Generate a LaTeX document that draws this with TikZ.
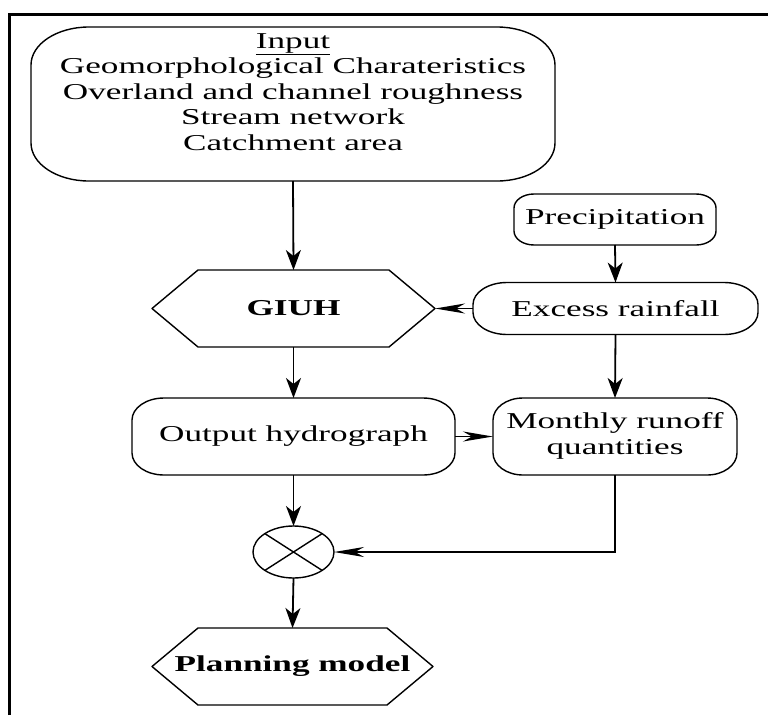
\documentclass[tikz,border=0pt]{standalone}
\usepackage{fontspec}
\usepackage{graphicx}
\setmainfont{Liberation Serif}
\usetikzlibrary{arrows.meta,shapes.geometric}
\newcommand\sx[1]{\scalebox{1.55}[1]{#1}}
\newcommand\lines[1]{\sx{\begin{tabular}{@{}c@{}}#1\end{tabular}}}
\newcommand\ovalpath[3]{%
  \draw[boxline] ([xshift=#2]#1.north west) -- ([xshift=-#2]#1.north east)
    arc[start angle=90,end angle=0,x radius=#2,y radius=#3]
    -- ([yshift=#3]#1.south east)
    arc[start angle=0,end angle=-90,x radius=#2,y radius=#3]
    -- ([xshift=#2]#1.south west)
    arc[start angle=270,end angle=180,x radius=#2,y radius=#3]
    -- ([yshift=-#3]#1.north west)
    arc[start angle=180,end angle=90,x radius=#2,y radius=#3] -- cycle;}
\newcommand\hexpath[2]{%
  \draw[boxline] (#1.west) -- ([xshift=#2]#1.north west) -- ([xshift=-#2]#1.north east)
    -- (#1.east) -- ([xshift=-#2]#1.south east) -- ([xshift=#2]#1.south west) -- cycle;}
\tikzset{
  boxline/.style={line width=1.4pt, line join=round},
  area/.style={inner sep=0pt, outer sep=0pt, align=center,
    font=\fontsize{22.7}{25.5}\selectfont},
  conn/.style={line width=1.8pt},
  vtip/.style={-{Stealth[length=20pt,width=15pt,inset=6pt]}},
  htip/.style={-{Stealth[length=30pt,width=10pt,inset=9pt]}},
}
\begin{document}
\begin{tikzpicture}[x=1pt,y=-1pt]
\useasboundingbox (0,0) rectangle (768,715);
\fill[white] (0,0) rectangle (768,715);
% frame
\draw[line width=3pt] (9.8,715) -- (9.8,14.7) -- (768,14.7);

% nodes
\node[area, minimum width=524pt, minimum height=154pt] (input) at (293,104) {};
\node[area] (inputtxt) at (293,94) {\lines{\underline{Input}\\Geomorphological Charateristics\\Overland and channel roughness\\Stream network\\Catchment area}};
\node[area, minimum width=202pt, minimum height=51pt] (prec) at (615,219.5) {\sx{Precipitation}};
\node[area, minimum width=285pt, minimum height=52pt] (excess) at (615.5,308.5) {\sx{Excess rainfall}};
\node[area, minimum width=283pt, minimum height=77pt, font=\fontsize{22.7}{25.5}\selectfont\bfseries] (giuh) at (293.5,308.5) {\sx{GIUH}};
\node[area, minimum width=323pt, minimum height=77pt] (output) at (293.5,436.5) {\sx{Output hydrograph}};
\node[area, minimum width=244pt, minimum height=77pt] (monthly) at (615,436.5) {\lines{Monthly runoff\\quantities}};
\node[ellipse, draw, boxline, inner sep=0pt, outer sep=0pt, minimum width=81pt, minimum height=52pt] (circ) at (293.5,552) {};
\node[area, minimum width=281pt, minimum height=77pt, font=\fontsize{22.7}{25.5}\selectfont\bfseries] (plan) at (292.5,666.5) {\sx{Planning model}};

% shapes
\ovalpath{input}{58pt}{38pt}
\ovalpath{prec}{20pt}{14pt}
\ovalpath{excess}{34pt}{22pt}
\ovalpath{output}{32pt}{22pt}
\ovalpath{monthly}{30pt}{22pt}
\hexpath{giuh}{46pt}
\hexpath{plan}{46pt}
\draw[boxline] (circ.north west) -- (circ.south east);
\draw[boxline] (circ.north east) -- (circ.south west);

% connectors
\draw[conn, vtip] (input.south) -- (giuh.north);
\draw[conn, vtip] (prec.south) -- (excess.north);
\draw[conn, htip] (excess.west) -- (giuh.east);
\draw[conn, vtip] (giuh.south) -- (output.north);
\draw[conn, vtip] (excess.south) -- (monthly.north);
\draw[conn, htip] (output.east) -- (monthly.west);
\draw[conn, htip] (monthly.south) |- (circ.east);
\draw[conn, vtip] (output.south) -- (circ.north);
\draw[conn, vtip] (circ.south) -- (plan.north);
\end{tikzpicture}
\end{document}
